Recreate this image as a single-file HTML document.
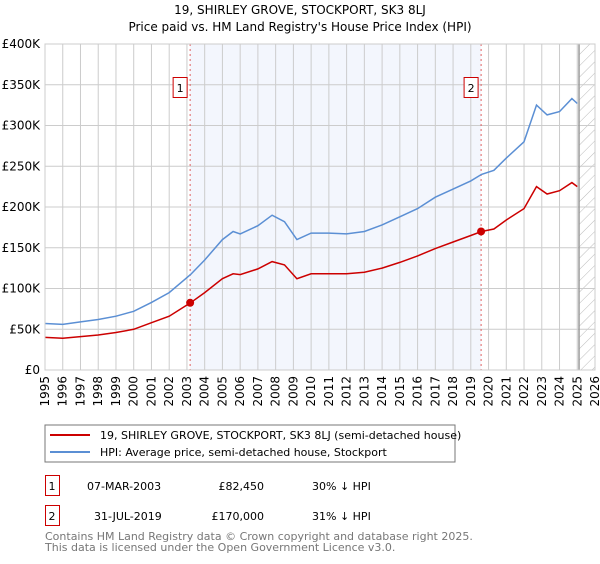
<!DOCTYPE html>
<html><head><meta charset="utf-8"><style>
body{margin:0;background:#fff;width:600px;height:560px;overflow:hidden;font-family:"DejaVu Sans","Liberation Sans",sans-serif}
svg text{font-family:"DejaVu Sans","Liberation Sans",sans-serif}
</style></head><body>
<svg id="c" width="600" height="560" xmlns="http://www.w3.org/2000/svg">
<defs><pattern id="hatch" width="8" height="8" patternUnits="userSpaceOnUse" patternTransform="rotate(45)"><line x1="0" y1="0" x2="0" y2="8" stroke="#bbb" stroke-width="1"/></pattern></defs>
<text x="300" y="14" text-anchor="middle" font-size="12">19, SHIRLEY GROVE, STOCKPORT, SK3 8LJ</text>
<text x="300" y="31" text-anchor="middle" font-size="12">Price paid vs. HM Land Registry's House Price Index (HPI)</text>
<g id="plot"></g>
<rect x="45" y="425" width="410" height="37" fill="#fff" stroke="#777"/>
<line x1="50" y1="435" x2="90" y2="435" stroke="#cc0000" stroke-width="2"/>
<text x="100" y="439" font-size="11">19, SHIRLEY GROVE, STOCKPORT, SK3 8LJ (semi-detached house)</text>
<line x1="50" y1="452" x2="90" y2="452" stroke="#5b8fd4" stroke-width="2"/>
<text x="100" y="456" font-size="11">HPI: Average price, semi-detached house, Stockport</text>
<g font-size="11">
<rect x="45.5" y="475.5" width="14" height="20" fill="#fff" stroke="#cc0000"/><text x="52" y="490" text-anchor="middle">1</text>
<text x="87" y="490">07-MAR-2003</text><text x="264" y="490" text-anchor="end">£82,450</text><text x="312" y="490">30% ↓ HPI</text></g>
<g font-size="11">
<rect x="45.5" y="505.5" width="14" height="20" fill="#fff" stroke="#cc0000"/><text x="52" y="520" text-anchor="middle">2</text>
<text x="94" y="520">31-JUL-2019</text><text x="264" y="520" text-anchor="end">£170,000</text><text x="312" y="520">31% ↓ HPI</text></g>
<text x="45" y="540" font-size="11" fill="#777">Contains HM Land Registry data © Crown copyright and database right 2025.</text>
<text x="45" y="551" font-size="11" fill="#777">This data is licensed under the Open Government Licence v3.0.</text>
</svg>
<script>
const years=[1995,1996,1997,1998,1999,2000,2001,2002,2003,2004,2005,2006,2007,2008,2009,2010,2011,2012,2013,2014,2015,2016,2017,2018,2019,2020,2021,2022,2023,2024,2025,2026];
const yTicks=[0,50000,100000,150000,200000,250000,300000,350000,400000];
const yTickLabels=["£0","£50K","£100K","£150K","£200K","£250K","£300K","£350K","£400K"];
const hpiT=[1995,1996,1997,1998,1999,2000,2001,2002,2003.2,2004,2005,2005.6,2006,2007,2007.8,2008.5,2009.2,2010,2011,2012,2013,2014,2015,2016,2017,2018,2019,2019.6,2020.3,2021,2022,2022.7,2023.3,2024,2024.7,2025];
const hpiV=[57,56,59,62,66,72,83,95,117,135,160,170,167,177,190,182,160,168,168,167,170,178,188,198,212,222,232,240,245,260,280,325,313,317,333,327];
const redT=hpiT;
const redV=[40,39,41,43,46,50,58,66,82.45,95,112,118,117,124,133,129,112,118,118,118,120,125,132,140,149,157,165,170,173,184,198,225,216,220,230,225];
const saleT=[2003.18,2019.58];
const saleV=[82450,170000];
const saleLabels=["1","2"];
const X0=45,X1=595,Y0=370,Y1=44;
const xs=t=>X0+(t-1995)/(2026-1995)*(X1-X0);
const ys=v=>Y0-v/400000*(Y0-Y1);
const NS="http://www.w3.org/2000/svg";
const g=document.getElementById('plot');
function mk(tag,at,parent){const e=document.createElementNS(NS,tag);for(const k in at)e.setAttribute(k,at[k]);(parent||g).appendChild(e);return e;}
let r=mk('rect',{x:xs(saleT[0]),y:Y1,width:xs(saleT[1])-xs(saleT[0]),height:Y0-Y1,fill:'#f3f6fd'});


const hs=xs(2025.1);
r=mk('rect',{x:hs,y:Y1,width:X1-hs,height:Y0-Y1,fill:'url(#hatch)'});


years.forEach(y=>{const l=mk('line',{x1:xs(y),x2:xs(y),y1:Y1,y2:Y0,stroke:'#ccc'});


const t=mk('text',{x:0,y:0,'font-size':12,'text-anchor':'end',transform:`translate(${xs(y)+4},${Y0+6}) rotate(-90)`});t.textContent=y;

});
yTicks.forEach((v,i)=>{const l=mk('line',{x1:X0,x2:X1,y1:ys(v),y2:ys(v),stroke:'#ccc'});


const t=mk('text',{x:X0-5,y:ys(v)+4,'font-size':12,'text-anchor':'end'});t.textContent=yTickLabels[i];

});
let vl=mk('line',{x1:hs,x2:hs,y1:Y1,y2:Y0,stroke:'#999','stroke-width':1.5});


saleT.forEach((t,i)=>{const l=mk('line',{x1:xs(t),x2:xs(t),y1:Y1,y2:Y0,stroke:'#e06060','stroke-dasharray':'2,3'});

});
function path(T,V,col,name){let d=T.map((t,i)=>(i?'L':'M')+xs(t).toFixed(1)+','+ys(V[i]*1000).toFixed(1)).join('');
const p=mk('path',{d:d,fill:'none',stroke:col,'stroke-width':1.5});

}
path(hpiT,hpiV,'#5b8fd4','hpi-line');
path(redT,redV,'#cc0000','price-paid-line');
saleT.forEach((t,i)=>{const c=mk('circle',{cx:xs(t),cy:ys(saleV[i]),r:4,fill:'#cc0000'});


const b=mk('rect',{x:xs(t)-17,y:77.5,width:14,height:20,fill:'#fff',stroke:'#cc0000'});


const tx=mk('text',{x:xs(t)-10,y:92,'font-size':11,'text-anchor':'middle'});tx.textContent=saleLabels[i];

});
let bd=mk('rect',{x:X0,y:Y1,width:X1-X0,height:Y0-Y1,fill:'none',stroke:'#ccc'});


</script>
</body></html>
